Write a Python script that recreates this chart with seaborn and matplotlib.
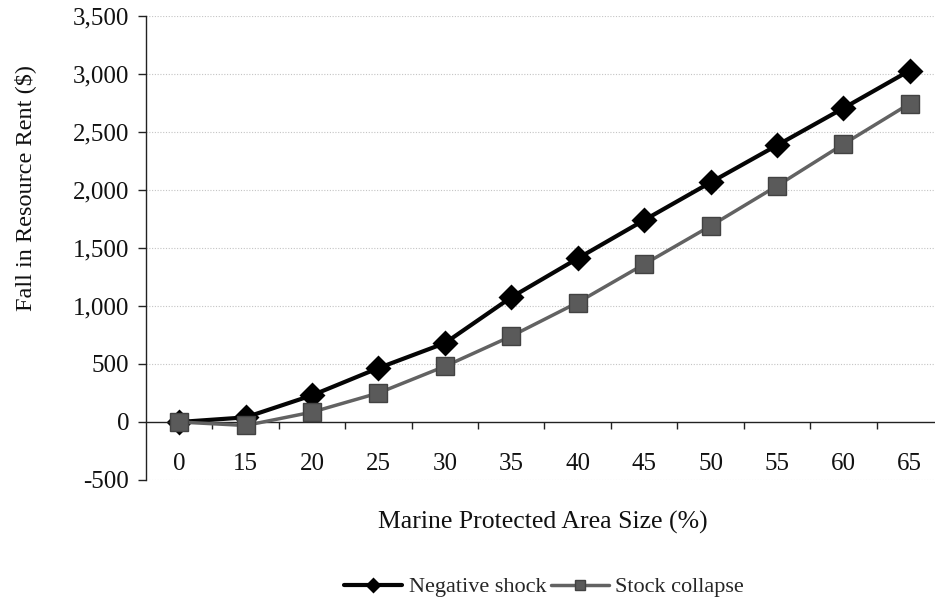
import matplotlib
matplotlib.use("Agg")
import matplotlib.pyplot as plt
import matplotlib.ticker as mticker
import numpy as np
import pandas as pd
import seaborn as sns

# Marine protected area size (%) and fall in resource rent ($)
mpa_size = ["0", "15", "20", "25", "30", "35", "40", "45", "50", "55", "60", "65"]
negative_shock = [0, 40, 230, 465, 680, 1075, 1410, 1740, 2065, 2385, 2705, 3030]
stock_collapse = [0, -30, 85, 250, 480, 740, 1030, 1360, 1690, 2035, 2395, 2745]
series_names = ["Negative shock", "Stock collapse"]
y_ticks = [-500, 0, 500, 1000, 1500, 2000, 2500, 3000, 3500]

df = pd.DataFrame({
    "mpa": mpa_size * 2,
    "rent": negative_shock + stock_collapse,
    "series": [series_names[0]] * len(mpa_size) + [series_names[1]] * len(mpa_size),
})

sns.set_theme(style="white")
plt.rcParams["font.family"] = ["Liberation Serif", "DejaVu Serif"]

fig = plt.figure(figsize=(9.35, 6.04), dpi=100)
ax = fig.add_axes([146 / 935, 124 / 604, (935 - 146) / 935, 464 / 604])

sns.pointplot(
    data=df, x="mpa", y="rent", hue="series", order=mpa_size,
    hue_order=series_names, palette=["#000000", "#606060"],
    markers=["D", "s"], linestyles=["-", "-"], errorbar=None,
    ax=ax, legend=False,
)

line_neg, line_stock = ax.lines[0], ax.lines[1]
line_neg.set(color="#050505", linewidth=3.0, markersize=11,
             markerfacecolor="#000000", markeredgecolor="#000000")
line_stock.set(color="#626262", linewidth=2.5, markersize=13,
               markerfacecolor="#5a5a5a", markeredgecolor="#424242",
               markeredgewidth=1.0)
line_stock.set_zorder(line_neg.get_zorder() + 1)

ax.set_xlim(-0.5, 11.38)
ax.set_ylim(-500, 3500)
ax.yaxis.set_major_locator(mticker.FixedLocator(y_ticks))
ax.yaxis.set_major_formatter(mticker.FuncFormatter(lambda v, p: f"{int(v):,}"))

# light dotted horizontal gridlines
ax.grid(False)
for v in y_ticks:
    if v != 0:
        ax.axhline(v, color="#c4c4c4", linewidth=0.8, linestyle=(0, (1, 1.5)), zorder=0)

# spines: left axis at the edge, category axis along zero
for s in ["top", "right"]:
    ax.spines[s].set_visible(False)
ax.spines["bottom"].set_position(("data", 0))
ax.spines["bottom"].set_color("#222222")
ax.spines["bottom"].set_linewidth(1.0)
ax.spines["left"].set_color("#222222")
ax.spines["left"].set_linewidth(1.0)

ax.xaxis.set_minor_locator(mticker.FixedLocator(np.arange(0.5, 11, 1.0)))
ax.tick_params(axis="x", which="major", length=0, pad=22, labelsize=18, colors="#111111")
ax.tick_params(axis="x", which="minor", length=5, width=1.0, direction="out",
               color="#222222", bottom=True)
ax.tick_params(axis="y", which="major", length=6, width=1.0, direction="out",
               pad=6, labelsize=18, colors="#222222", labelcolor="#111111", left=True)

ax.set_xlabel("Marine Protected Area Size (%)", fontsize=18.5, color="#111111",
              va="center", ha="center")
ax.xaxis.set_label_coords(0.503, -0.0905)
ax.set_ylabel("Fall in Resource Rent ($)", fontsize=17.5, color="#111111",
              va="center", ha="center")
ax.yaxis.set_label_coords(-0.153, 0.629)

fig.legend(handles=[line_neg, line_stock], labels=series_names,
           loc="center", bbox_to_anchor=(0.582, 0.028), ncol=2, frameon=False,
           fontsize=16, markerscale=0.6, handlelength=2.6, handletextpad=0.3,
           columnspacing=0.2, borderaxespad=0)

fig.savefig("out.png", dpi=100, facecolor="white")
